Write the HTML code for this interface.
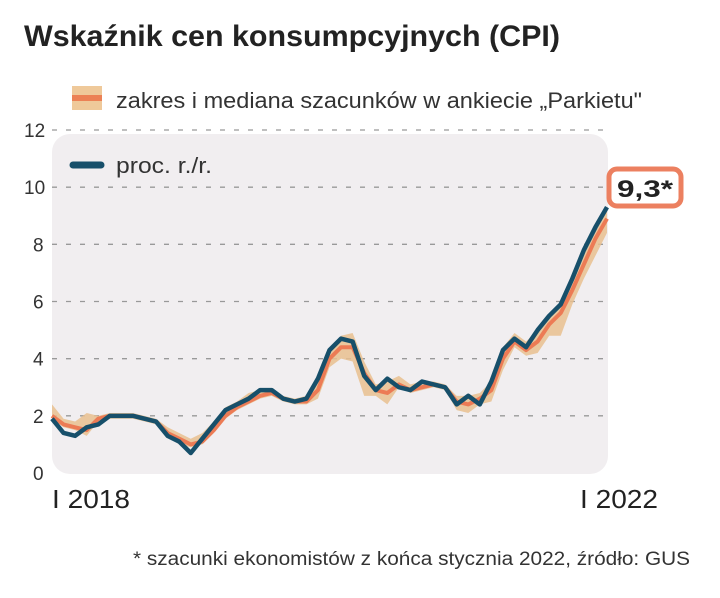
<!DOCTYPE html>
<html><head><meta charset="utf-8"><style>
html,body{margin:0;padding:0;background:#fff;}
svg{display:block;font-family:"Liberation Sans",sans-serif;}
</style></head><body>
<svg id="chart" width="720" height="598" viewBox="0 0 720 598" xmlns="http://www.w3.org/2000/svg">
<text x="24" y="46" font-size="30" font-weight="bold" fill="#222" textLength="536" lengthAdjust="spacingAndGlyphs">Wskaźnik cen konsumpcyjnych (CPI)</text>
<rect x="52" y="134" width="556" height="340" rx="18" fill="#f1eef0"/>
<g id="grid"></g>
<g id="ylabels"></g>
<g id="series"></g>
<g>
<rect x="72" y="86" width="30" height="24" fill="#efc99a"/>
<rect x="72" y="95" width="30" height="6" fill="#ec8155"/>
<text x="116" y="108" font-size="22" fill="#333" textLength="526" lengthAdjust="spacingAndGlyphs">zakres i mediana szacunków w ankiecie „Parkietu"</text>
<line x1="73" y1="165" x2="101" y2="165" stroke="#174f6a" stroke-width="7" stroke-linecap="round"/>
<text x="116" y="173" font-size="22" fill="#333" textLength="96" lengthAdjust="spacingAndGlyphs">proc. r./r.</text>
</g>
<rect x="609" y="169" width="72" height="37" rx="8" fill="#fff" stroke="#ec8060" stroke-width="5"/>
<text x="645" y="197" font-size="24" font-weight="bold" fill="#222" text-anchor="middle" textLength="56" lengthAdjust="spacingAndGlyphs">9,3*</text>
<text x="52" y="508" font-size="26" fill="#222" textLength="78" lengthAdjust="spacingAndGlyphs">I 2018</text>
<text x="580" y="508" font-size="26" fill="#222" textLength="78" lengthAdjust="spacingAndGlyphs">I 2022</text>
<text x="690" y="565" font-size="19" fill="#333" text-anchor="end" textLength="557" lengthAdjust="spacingAndGlyphs">* szacunki ekonomistów z końca stycznia 2022, źródło: GUS</text>
</svg>
<script>
const yTicks=[0,2,4,6,8,10,12];
const actual=[1.9,1.4,1.3,1.6,1.7,2.0,2.0,2.0,1.9,1.8,1.3,1.1,
0.7,1.2,1.7,2.2,2.4,2.6,2.9,2.9,2.6,2.5,2.6,3.3,
4.3,4.7,4.6,3.4,2.9,3.3,3.0,2.9,3.2,3.1,3.0,2.4,
2.7,2.4,3.2,4.3,4.7,4.4,5.0,5.5,5.9,6.8,7.8,8.6,9.3];
const median=[2.0,1.7,1.6,1.5,1.9,2.0,2.0,2.0,1.9,1.8,1.4,1.2,
1.0,1.1,1.5,2.0,2.3,2.5,2.7,2.8,2.6,2.5,2.5,2.9,
4.0,4.4,4.4,3.5,2.9,2.8,3.1,2.9,3.0,3.1,3.0,2.5,
2.4,2.6,2.9,4.0,4.6,4.3,4.6,5.2,5.6,6.4,7.3,8.2,8.9];
const low=[1.9,1.6,1.5,1.3,1.8,1.9,1.9,1.9,1.8,1.7,1.3,1.0,
0.9,1.0,1.4,1.9,2.2,2.4,2.6,2.7,2.5,2.4,2.4,2.6,
3.7,4.0,3.9,2.7,2.7,2.4,3.0,2.8,2.9,3.0,2.9,2.2,
2.1,2.4,2.5,3.6,4.4,4.1,4.2,4.8,4.8,5.9,6.8,7.6,8.4];
const high=[2.4,1.9,1.8,2.1,2.0,2.1,2.1,2.1,2.0,1.9,1.6,1.4,
1.2,1.4,1.8,2.3,2.5,2.8,2.9,2.9,2.7,2.6,2.7,3.2,
4.3,4.8,4.9,3.9,3.1,3.2,3.4,3.1,3.2,3.2,3.1,2.7,
2.7,2.8,3.2,4.4,4.9,4.6,5.0,5.5,5.9,6.8,7.8,8.6,9.3];
const X0=52,X1=607,Y0=473,Y12=130;
const x=i=>X0+(X1-X0)*i/(actual.length-1);
const y=v=>Y0-(Y0-Y12)*v/12;
const NS="http://www.w3.org/2000/svg";
const grid=document.getElementById('grid'),yl=document.getElementById('ylabels'),ser=document.getElementById('series');
yTicks.forEach(t=>{
 if(t>0){const l=document.createElementNS(NS,'line');
 
 
 l.setAttribute('x1',52);l.setAttribute('x2',608);l.setAttribute('y1',y(t));l.setAttribute('y2',y(t));
 l.setAttribute('stroke','#999');l.setAttribute('stroke-width','1.3');l.setAttribute('stroke-dasharray','5 9');
 grid.appendChild(l);}
 const tx=document.createElementNS(NS,'text');
 
 
 tx.setAttribute('x',t>=10?24:33);tx.setAttribute('y',y(t)+7);tx.setAttribute('font-size','19');tx.setAttribute('fill','#333');
 tx.textContent=t;yl.appendChild(tx);
});
let d='';high.forEach((v,i)=>d+=(i?'L':'M')+x(i)+','+y(v));
for(let i=low.length-1;i>=0;i--)d+='L'+x(i)+','+y(low[i]);
const band=document.createElementNS(NS,'path');


band.setAttribute('d',d+'Z');band.setAttribute('fill','#e9c08f');band.setAttribute('opacity','0.85');ser.appendChild(band);
function line(arr,name,col,w){const p=document.createElementNS(NS,'path');let s='';arr.forEach((v,i)=>s+=(i?'L':'M')+x(i)+','+y(v));
p.setAttribute('d',s);p.setAttribute('fill','none');p.setAttribute('stroke',col);p.setAttribute('stroke-width',w);p.setAttribute('stroke-linejoin','round');


ser.appendChild(p);}
line(median,'median-estimate-line','#ec7b55',4);
line(actual,'cpi-actual-line','#174f6a',4.5);
</script>
</body></html>
